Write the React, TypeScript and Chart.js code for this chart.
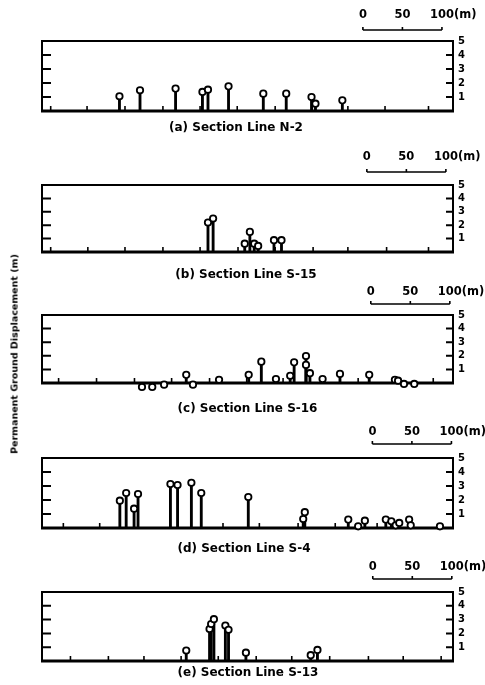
import React, { useEffect, useRef } from "react";
import { Chart, registerables } from "chart.js";

Chart.register(...registerables);

// ---------- data ----------
const yTickValues = [1, 2, 3, 4, 5];
const scaleBarMarks = [0, 50, 100];
const scaleBarLabels = ["0", "50", "100"];
const scaleBarUnit = "(m)";
const yAxisTitle = "Permanent Ground Displacement (m)";
const sectionCaptions = [
  "(a) Section Line N-2",
  "(b) Section Line S-15",
  "(c) Section Line S-16",
  "(d) Section Line S-4",
  "(e) Section Line S-13",
];

// distance along section line (m) and permanent ground displacement (m)
const n2Distance = [98, 124, 169, 203, 210, 236, 280, 309, 341, 346, 380];
const n2Displacement = [1.05, 1.48, 1.6, 1.36, 1.52, 1.76, 1.24, 1.24, 1.0, 0.52, 0.76];
const n2Stations = [11, 57, 105, 153, 200, 247, 295, 342, 387, 434, 489];

const s15Distance = [210, 216.5, 256.5, 263, 268.5, 273.5, 293.5, 303];
const s15Displacement = [2.2, 2.5, 0.62, 1.5, 0.62, 0.45, 0.88, 0.88];
const s15Stations = [11, 58, 105, 153, 200, 248, 295, 343, 387, 436, 489];

const s16Distance = [126.5, 139.5, 154.5, 182.5, 191, 224, 261.5, 277.5, 296, 314, 319, 334, 334, 339, 355, 377, 414, 446.5, 450.5, 458, 471];
const s16Displacement = [-0.29, -0.29, -0.12, 0.6, -0.12, 0.24, 0.6, 1.57, 0.29, 0.53, 1.52, 1.98, 1.33, 0.72, 0.29, 0.67, 0.6, 0.24, 0.17, -0.07, -0.07];
const s16Stations = [21, 69, 117, 164, 212, 259, 305, 353, 400, 446, 495];

const s4Distance = [98.5, 106.5, 116.5, 121.5, 162.5, 171.5, 189, 201.5, 261, 330.5, 332.5, 387.5, 400, 408.5, 435, 442, 447.5, 452, 464.5, 466.5, 503.5];
const s4Displacement = [1.95, 2.5, 1.38, 2.43, 3.14, 3.07, 3.23, 2.5, 2.21, 0.64, 1.13, 0.6, 0.12, 0.52, 0.6, 0.48, 0.19, 0.36, 0.6, 0.19, 0.12];
const s4Stations = [27, 73, 229, 275, 324, 371, 424, 467];

const s13Distance = [182.5, 212, 214, 217.5, 232, 236, 258, 340, 348.5];
const s13Displacement = [0.76, 2.32, 2.68, 3.03, 2.57, 2.26, 0.6, 0.42, 0.8];
const s13Stations = [36, 84, 129, 176, 223, 271, 316, 364, 413, 457, 505];

const xMin = 0;
const xMax = 520;
const yMin = 0;
const yMax = 5;

// ---------- layout (page pixels) ----------
const PAD = 36;
const panels = [
  { caption: sectionCaptions[0], distance: n2Distance, disp: n2Displacement, stations: n2Stations,
    scaleStart: 406, frameTop: 41, frameH: 70, barGap: 11, textGap: 25.5, capGap: 17, capDx: -11.5 },
  { caption: sectionCaptions[1], distance: s15Distance, disp: s15Displacement, stations: s15Stations,
    scaleStart: 411, frameTop: 185, frameH: 67, barGap: 13, textGap: 27.5, capGap: 23, capDx: -1.5 },
  { caption: sectionCaptions[2], distance: s16Distance, disp: s16Displacement, stations: s16Stations,
    scaleStart: 416, frameTop: 315, frameH: 68, barGap: 11, textGap: 23, capGap: 26, capDx: 0 },
  { caption: sectionCaptions[3], distance: s4Distance, disp: s4Displacement, stations: s4Stations,
    scaleStart: 418, frameTop: 458, frameH: 70, barGap: 14, textGap: 25.5, capGap: 21, capDx: -3.5 },
  { caption: sectionCaptions[4], distance: s13Distance, disp: s13Displacement, stations: s13Stations,
    scaleStart: 418.5, frameTop: 592, frameH: 69, barGap: 13, textGap: 25, capGap: 11.5, capDx: 0.5 },
];

const FONT = '"DejaVu Sans", "Liberation Sans", Arial, sans-serif';

function makeDecor(cfg: any) {
  return {
    id: "sectionDecor",
    beforeDatasetsDraw(chart: any) {
      const { ctx, chartArea, scales } = chart;
      const { left, right, top, bottom } = chartArea;
      const y = scales.y;
      const x = scales.x;
      ctx.save();
      ctx.strokeStyle = "#000";
      ctx.lineCap = "butt";
      // frame
      ctx.lineWidth = 2;
      ctx.strokeRect(left, top, right - left, bottom - top);
      // baseline
      const y0 = y.getPixelForValue(0);
      ctx.lineWidth = 3;
      ctx.beginPath();
      ctx.moveTo(left - 1, y0);
      ctx.lineTo(right + 1, y0);
      ctx.stroke();
      // inner ticks on left and right
      ctx.lineWidth = 2;
      yTickValues.forEach((v) => {
        if (v >= yMax) return;
        const py = y.getPixelForValue(v);
        ctx.beginPath();
        ctx.moveTo(left, py);
        ctx.lineTo(left + 9, py);
        ctx.moveTo(right, py);
        ctx.lineTo(right - 7, py);
        ctx.stroke();
      });
      // station ticks along the base
      ctx.lineWidth = 1.6;
      cfg.stations.forEach((s: number) => {
        const px = x.getPixelForValue(s);
        ctx.beginPath();
        ctx.moveTo(px, y0);
        ctx.lineTo(px, y0 - 5);
        ctx.stroke();
      });
      ctx.restore();
    },
    afterDraw(chart: any) {
      const { ctx, chartArea, scales } = chart;
      const { left, right, top, bottom } = chartArea;
      const x = scales.x;
      ctx.save();
      ctx.strokeStyle = "#000";
      ctx.fillStyle = "#000";
      // scale bar
      const pts = scaleBarMarks.map((m) => x.getPixelForValue(cfg.scaleStart + m));
      const by = top - cfg.barGap;
      ctx.lineWidth = 1.6;
      ctx.beginPath();
      ctx.moveTo(pts[0], by);
      ctx.lineTo(pts[pts.length - 1], by);
      pts.forEach((p) => {
        ctx.moveTo(p, by);
        ctx.lineTo(p, by - 3);
      });
      ctx.stroke();
      ctx.font = `bold 11.5px ${FONT}`;
      ctx.textBaseline = "middle";
      const ty = top - cfg.textGap;
      scaleBarLabels.forEach((lab, i) => {
        if (i === scaleBarLabels.length - 1) {
          const w = ctx.measureText(lab).width;
          ctx.textAlign = "left";
          ctx.fillText(lab + scaleBarUnit, pts[i] - w / 2, ty);
        } else {
          ctx.textAlign = "center";
          ctx.fillText(lab, pts[i], ty);
        }
      });
      // caption
      ctx.font = `bold 12px ${FONT}`;
      ctx.textAlign = "center";
      ctx.fillText(cfg.caption, (left + right) / 2 + cfg.capDx, bottom + cfg.capGap);
      ctx.restore();
    },
  };
}

function Panel({ cfg }: { cfg: any }) {
  const ref = useRef<HTMLCanvasElement | null>(null);
  const height = cfg.frameH + PAD * 2;
  useEffect(() => {
    if (!ref.current) return;
    const chart = new Chart(ref.current, {
      type: "bar",
      data: {
        datasets: [
          {
            type: "scatter",
            data: cfg.distance.map((d: number, i: number) => ({ x: d, y: cfg.disp[i] })),
            pointStyle: "circle",
            pointRadius: 3.2,
            pointBackgroundColor: "#fff",
            pointBorderColor: "#000",
            pointBorderWidth: 1.8,
            showLine: false,
            clip: false,
            order: 1,
          } as any,
          {
            type: "bar",
            data: cfg.distance.map((d: number, i: number) => ({ x: d, y: cfg.disp[i] })),
            backgroundColor: "#000",
            borderWidth: 0,
            barThickness: 2.2,
            clip: 0,
            order: 2,
          } as any,
        ],
      },
      options: {
        responsive: false,
        animation: false,
        events: [],
        layout: { padding: { left: 42, right: 0, top: PAD, bottom: PAD } },
        plugins: {
          legend: { display: false },
          tooltip: { enabled: false },
          title: { display: false },
        },
        scales: {
          x: {
            type: "linear",
            min: xMin,
            max: xMax,
            offset: false,
            display: false,
          },
          y: {
            type: "linear",
            position: "right",
            min: yMin,
            max: yMax,
            grid: { display: false, drawTicks: false },
            border: { display: false },
            afterBuildTicks: (s: any) => {
              s.ticks = yTickValues.map((v) => ({ value: v }));
            },
            afterFit: (s: any) => {
              s.width = 32;
            },
            ticks: {
              padding: 5,
              color: "#000",
              font: { family: FONT, weight: "bold", size: 10 },
            },
          },
        },
      } as any,
      plugins: [makeDecor(cfg)],
    });
    return () => chart.destroy();
  }, [cfg]);
  return (
    <canvas
      ref={ref}
      width={485}
      height={height}
      style={{ position: "absolute", left: 0, top: cfg.frameTop - PAD, width: 485, height }}
    />
  );
}

export default function App() {
  return (
    <div
      style={{
        position: "absolute",
        left: 0,
        top: 0,
        width: 485,
        height: 685,
        overflow: "hidden",
        background: "#fff",
      }}
    >
      {panels.map((p, i) => (
        <Panel key={i} cfg={p} />
      ))}
      <div
        style={{
          position: "absolute",
          left: 13.5,
          top: 354,
          transform: "translate(-50%, -50%) rotate(-90deg)",
          font: `bold 9.5px ${FONT}`,
          whiteSpace: "nowrap",
          color: "#000",
        }}
      >
        {yAxisTitle}
      </div>
    </div>
  );
}
